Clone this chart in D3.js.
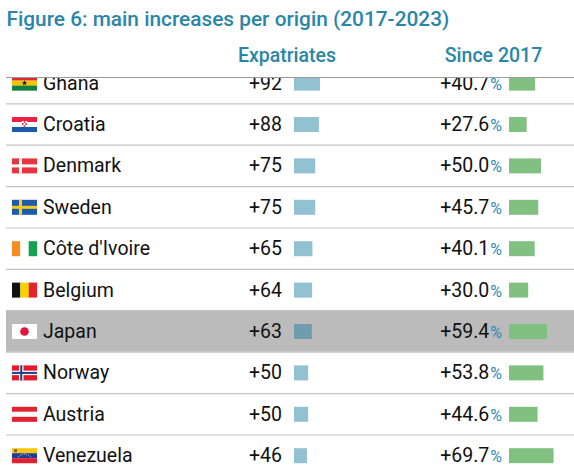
<!DOCTYPE html>
<html><head><meta charset="utf-8">
<script src="https://cdn.jsdelivr.net/npm/d3@7"></script>
<style>
html,body{margin:0;padding:0;background:#fff;overflow:hidden}
svg{display:block;font-family:Roboto,"Noto Sans",sans-serif}
</style></head>
<body><svg id="c" width="574" height="475"></svg>
<script>
const countries = ["Ghana","Croatia","Denmark","Sweden","Côte d'Ivoire","Belgium","Japan","Norway","Austria","Venezuela"];
const expatriates = [92,88,75,75,65,64,63,50,50,46];
const since2017 = [40.7,27.6,50.0,45.7,40.1,30.0,59.4,53.8,44.6,69.7];
const highlighted = ["Japan"];
const title = "Figure 6: main increases per origin (2017-2023)";
const headers = ["Expatriates","Since 2017"];

const W = 574, H = 475;
const svg = d3.select("#c");
const rowH = 41.4, top0 = 61.9;
const y = d3.scaleBand().domain(countries).range([top0, top0 + rowH*countries.length]).padding(0);
const xE = d3.scaleLinear().domain([0,100]).range([0,28.3]);
const xP = d3.scaleLinear().domain([0,100]).range([0,64]);
const teal = "#2a86a8";

// title
const t = svg.append("text").attr("x",6.5).attr("y",26).attr("fill",teal)
  .attr("font-size",21).attr("font-weight",500).text(title);
const tl = t.node().getComputedTextLength();
t.attr("font-size", 21*443/tl);

// headers
svg.append("text").attr("x",287).attr("y",61.5).attr("text-anchor","middle").attr("fill",teal)
  .attr("font-size",19.5).attr("font-weight",500).text(headers[0]);
svg.append("text").attr("x",493.5).attr("y",61.5).attr("text-anchor","middle").attr("fill",teal)
  .attr("font-size",19.5).attr("font-weight",500).text(headers[1]);

svg.append("clipPath").attr("id","body").append("rect").attr("x",0).attr("y",77.5).attr("width",W).attr("height",H);
const body = svg.append("g").attr("clip-path","url(#body)");

const rows = body.selectAll("g.row").data(countries.map((c,i)=>({c,e:expatriates[i],p:since2017[i],hl:highlighted.includes(c)})))
  .join("g").attr("class","row").attr("transform",d=>`translate(0,${y(d.c)})`);

rows.filter(d=>d.hl).append("rect").attr("x",6).attr("y",0).attr("width",W-6).attr("height",y.bandwidth()).attr("fill","#bbbbbb");
rows.append("line").attr("x1",6).attr("x2",W).attr("y1",y.bandwidth()+0.5).attr("y2",y.bandwidth()+0.5)
  .attr("stroke","#c4c4c4").attr("stroke-width",1.2);

const fy = 13.7, fw = 25, fh = 15, fx = 12;
rows.each(function(d){
  const g = d3.select(this).append("g").attr("transform",`translate(${fx},${fy})`);
  drawFlag(g, d.c);
});

const fs = 19.5;
rows.append("text").attr("x",43).attr("y",27.8).attr("font-size",fs).attr("fill","#111").text(d=>d.c);
rows.append("text").attr("x",282).attr("y",27.8).attr("font-size",fs).attr("fill","#111").attr("text-anchor","end").text(d=>"+"+d.e);
rows.append("rect").attr("x",294).attr("y",fy).attr("height",fh).attr("width",d=>xE(d.e))
  .attr("fill",d=>d.hl?"#6e9dad":"#92c1d1");
const pt = rows.append("text").attr("x",502).attr("y",27.8).attr("text-anchor","end").attr("fill","#111");
pt.append("tspan").attr("font-size",fs).text(d=>"+"+d.p.toFixed(1));
pt.append("tspan").attr("font-size",16).attr("dx",1).attr("fill","#2f8ab5").text("%");
rows.append("rect").attr("x",509).attr("y",fy).attr("height",fh).attr("width",d=>xP(d.p)).attr("fill","#80c080");

svg.append("line").attr("x1",6).attr("x2",W).attr("y1",77.5).attr("y2",77.5).attr("stroke","#9a9a9a").attr("stroke-width",1.2);

function stripesH(g, cols){ const h=fh/cols.length; cols.forEach((c,i)=>g.append("rect").attr("x",0).attr("y",i*h).attr("width",fw).attr("height",h+0.05).attr("fill",c)); }
function stripesV(g, cols){ const w=fw/cols.length; cols.forEach((c,i)=>g.append("rect").attr("x",i*w).attr("y",0).attr("width",w+0.05).attr("height",fh).attr("fill",c)); }
function cross(g, bg, fg, inner){
  g.append("rect").attr("width",fw).attr("height",fh).attr("fill",bg);
  g.append("rect").attr("x",7).attr("y",0).attr("width",inner?4.5:3).attr("height",fh).attr("fill",fg);
  g.append("rect").attr("x",0).attr("y",inner?5.25:6).attr("width",fw).attr("height",inner?4.5:3).attr("fill",fg);
  if(inner){
    g.append("rect").attr("x",8.25).attr("y",0).attr("width",2).attr("height",fh).attr("fill",inner);
    g.append("rect").attr("x",0).attr("y",6.5).attr("width",fw).attr("height",2).attr("fill",inner);
  }
}
function drawFlag(g, c){
  switch(c){
    case "Ghana":
      stripesH(g,["#e3262f","#f5c400","#11803e"]);
      g.append("path").attr("d",d3.symbol(d3.symbolStar,10)()).attr("transform",`translate(${fw/2},${fh/2})`).attr("fill","#111");
      break;
    case "Croatia":
      stripesH(g,["#ec1f46","#ffffff","#1a5cab"]);
      g.append("rect").attr("x",10).attr("y",4).attr("width",5).attr("height",6).attr("fill","#e84a5f");
      for(let i=0;i<3;i++)for(let j=0;j<3;j++) if((i+j)%2==0) g.append("rect").attr("x",10+i*5/3).attr("y",4+j*2).attr("width",5/3).attr("height",2).attr("fill","#fff");
      break;
    case "Denmark": cross(g,"#e8343d","#ffffff"); break;
    case "Sweden": cross(g,"#1f5ba8","#f7cd1a"); break;
    case "Côte d'Ivoire": stripesV(g,["#f98c20","#ffffff","#14a251"]); break;
    case "Belgium": stripesV(g,["#111111","#f5d200","#e4252b"]); break;
    case "Japan":
      g.append("rect").attr("width",fw).attr("height",fh).attr("fill","#fff");
      g.append("circle").attr("cx",fw/2).attr("cy",fh/2).attr("r",4.3).attr("fill","#e1163a");
      break;
    case "Norway": cross(g,"#e21a2a","#ffffff","#1d3b8f"); break;
    case "Austria": stripesH(g,["#e3232f","#ffffff","#e3232f"]); break;
    case "Venezuela":
      stripesH(g,["#f8c70f","#1f3d98","#e01f30"]);
      g.append("path").attr("d","M6,9 Q12.5,3 19,9").attr("fill","none").attr("stroke","#fff").attr("stroke-width",0.8).attr("stroke-dasharray","1 1.2");
      g.append("rect").attr("x",2).attr("y",1).attr("width",3).attr("height",3).attr("fill","#7a6a3a");
      break;
  }
}
</script></body></html>
